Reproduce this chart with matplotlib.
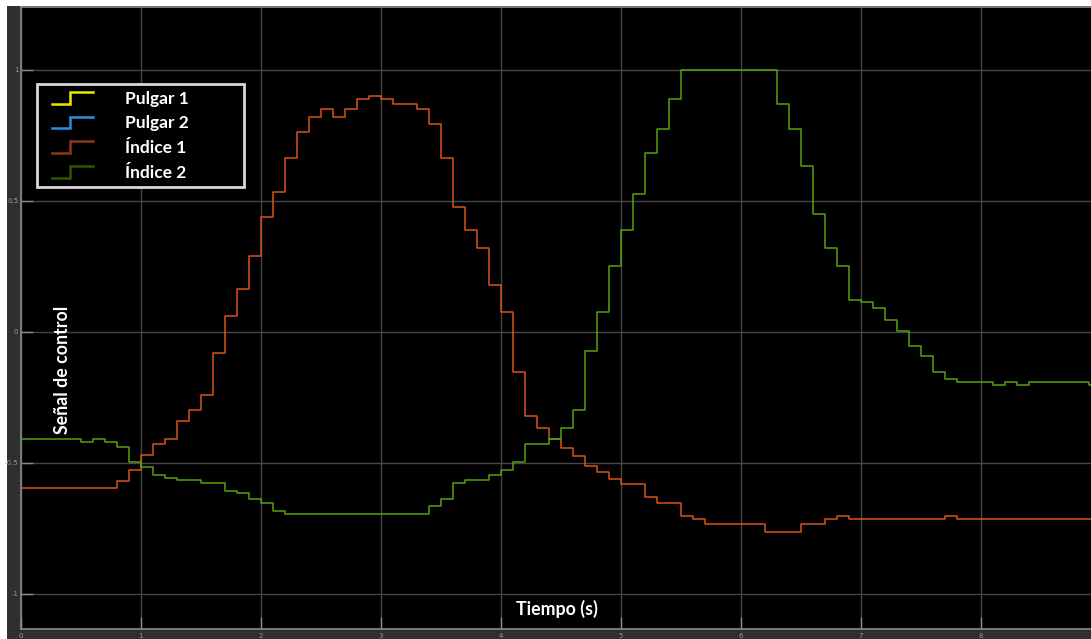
import matplotlib
matplotlib.use("Agg")
import matplotlib.pyplot as plt
from matplotlib.legend_handler import HandlerBase
from matplotlib.lines import Line2D
from matplotlib.patches import Rectangle

# ---------------- data (step levels, change times in s) ----------------
indice1_t = [0.0, 0.8, 0.9, 1.0, 1.1, 1.2, 1.3, 1.4, 1.5, 1.6, 1.7, 1.8, 1.9,
             2.0, 2.1, 2.2, 2.3, 2.4, 2.5, 2.6, 2.7, 2.8, 2.9, 3.0, 3.1, 3.3,
             3.4, 3.5, 3.6, 3.7, 3.8, 3.9, 4.0, 4.1, 4.2, 4.3, 4.4, 4.5, 4.6,
             4.7, 4.8, 4.9, 5.0, 5.2, 5.3, 5.5, 5.6, 5.7, 6.2, 6.5, 6.7, 6.8,
             6.9, 7.7, 7.8]
indice1_v = [-0.595, -0.568, -0.527, -0.468, -0.429, -0.41, -0.34, -0.30, -0.24,
             -0.08, 0.06, 0.164, 0.29, 0.44, 0.535, 0.664, 0.763, 0.822, 0.85,
             0.822, 0.85, 0.889, 0.902, 0.89, 0.87, 0.85, 0.794, 0.663, 0.476,
             0.388, 0.319, 0.18, 0.074, -0.153, -0.32, -0.368, -0.41, -0.443,
             -0.472, -0.512, -0.533, -0.562, -0.58, -0.631, -0.652, -0.703,
             -0.715, -0.735, -0.765, -0.735, -0.714, -0.703, -0.715, -0.703,
             -0.715]

indice2_t = [0.0, 0.5, 0.6, 0.7, 0.8, 0.9, 1.0, 1.1, 1.2, 1.3, 1.5, 1.7, 1.8,
             1.9, 2.0, 2.1, 2.2, 3.4, 3.5, 3.6, 3.7, 3.9, 4.0, 4.1, 4.2, 4.4,
             4.5, 4.6, 4.7, 4.8, 4.9, 5.0, 5.1, 5.2, 5.3, 5.4, 5.5, 6.3, 6.4,
             6.5, 6.6, 6.7, 6.8, 6.9, 7.0, 7.1, 7.2, 7.3, 7.4, 7.5, 7.6, 7.7,
             7.8, 8.1, 8.2, 8.3, 8.4, 8.9]
indice2_v = [-0.41, -0.42, -0.41, -0.42, -0.439, -0.496, -0.517, -0.548, -0.556,
             -0.566, -0.578, -0.607, -0.616, -0.636, -0.655, -0.684, -0.695,
             -0.665, -0.636, -0.577, -0.567, -0.547, -0.527, -0.497, -0.429,
             -0.41, -0.368, -0.30, -0.074, 0.074, 0.25, 0.389, 0.525, 0.682,
             0.774, 0.889, 1.0, 0.87, 0.774, 0.635, 0.449, 0.319, 0.25, 0.122,
             0.113, 0.093, 0.045, 0.005, -0.053, -0.093, -0.153, -0.181, -0.193,
             -0.202, -0.193, -0.202, -0.193, -0.202]

x_end = 8.92
x_ticks = [0, 1, 2, 3, 4, 5, 6, 7, 8]
x_ticklabels = ["0", "1", "2", "3", "4", "5", "6", "7", "8"]
y_ticks = [-1, -0.5, 0, 0.5, 1]
y_ticklabels = ["-1", "-0.5", "0", "0.5", "1"]

legend_labels = ["Pulgar 1", "Pulgar 2", "Índice 1", "Índice 2"]
legend_colors = ["#f2e600", "#2a8fe0", "#8c3a12", "#2f5600"]

# ---------------- figure ----------------
W, H = 1091, 639
fig = plt.figure(figsize=(W / 100, H / 100), dpi=100, facecolor="white")

def fx(px):
    return px / W

def fy(py):
    return 1 - py / H

# dark frame behind the axes
fig.patches.append(Rectangle((fx(7), 0), 1 - fx(7), fy(6), transform=fig.transFigure,
                             facecolor="#2f2f2f", edgecolor="none", zorder=-10))

ax = fig.add_axes([fx(21), 1 - 629 / H, 1 - fx(21), (629 - 7) / H])
ax.set_zorder(1)
ax.set_facecolor("black")

color1 = "#d9541a"
color2 = "#56a20c"

ax.step(indice1_t + [x_end], indice1_v + [indice1_v[-1]], where="post",
        color=color1, lw=1.1, zorder=3)
ax.step(indice2_t + [x_end], indice2_v + [indice2_v[-1]], where="post",
        color=color2, lw=1.1, zorder=3)

ax.set_xlim(0, x_end)
ax.set_ylim(-1.134, 1.24)
ax.set_xticks(x_ticks)
ax.set_xticklabels(x_ticklabels)
ax.set_yticks(y_ticks)
ax.set_yticklabels(y_ticklabels)
ax.grid(True, color="#474747", lw=1.0)
ax.tick_params(direction="in", length=8.5, width=1, color="#8a8a8a",
               labelsize=5, labelcolor="#9a9a9a", pad=2)
ax.tick_params(axis="x", pad=3)
for s in ["left", "bottom", "top"]:
    ax.spines[s].set_color("#8a8a8a")
    ax.spines[s].set_linewidth(1.2)
ax.spines["right"].set_visible(False)


class StepHandler(HandlerBase):
    def create_artists(self, legend, orig_handle, xdescent, ydescent, width,
                       height, fontsize, trans):
        x0 = -xdescent + 0.16 * width
        w = width * 0.84
        y0 = -ydescent
        xs = [x0, x0 + 0.45 * w, x0 + 0.45 * w, x0 + w]
        ys = [y0, y0, y0 + 0.95 * height, y0 + 0.95 * height]
        ln = Line2D(xs, ys, color=orig_handle.get_color(), lw=1.8,
                    solid_joinstyle="miter")
        ln.set_transform(trans)
        return [ln]


handles = [Line2D([], [], color=c) for c in legend_colors]
leg_box = (fx(37), fy(182), fx(244) - fx(37), fy(84) - fy(182))
leg = ax.legend(handles, legend_labels, handler_map={Line2D: StepHandler()},
                loc="upper left", bbox_to_anchor=leg_box, mode="expand",
                bbox_transform=fig.transFigure, borderaxespad=0,
                fancybox=False, frameon=True, facecolor="black",
                edgecolor="#d8d8d8", framealpha=1,
                prop={"family": "Lato", "weight": "bold", "size": 12.5},
                handlelength=2.86, handletextpad=1.84, labelspacing=0.5,
                borderpad=0.38)
leg.get_frame().set_linewidth(2.0)
for t in leg.get_texts():
    t.set_color("white")
leg.set_zorder(5)

fig.text(fx(62), fy(370), "Señal de control", rotation=90, ha="center",
         va="center", color="white", fontsize=12.8, fontweight="bold",
         family="Lato", zorder=6)
fig.text(fx(557), fy(609), "Tiempo (s)", ha="center", va="center",
         color="white", fontsize=12.8, fontweight="bold", family="Lato", zorder=6)

fig.savefig("out.png", dpi=100, facecolor="white")
